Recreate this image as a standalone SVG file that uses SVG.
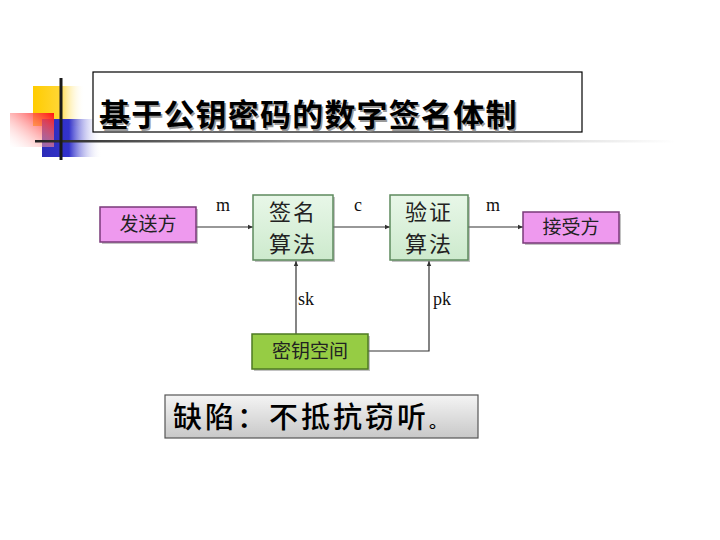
<svg xmlns="http://www.w3.org/2000/svg" width="720" height="540" viewBox="0 0 720 540">
<defs>
<linearGradient id="gY" x1="0" y1="0" x2="1" y2="0"><stop offset="0" stop-color="#FFCC00"/><stop offset="0.5" stop-color="#FFD633"/><stop offset="1" stop-color="#FFFFFF" stop-opacity="0"/></linearGradient>
<linearGradient id="gB" x1="0" y1="0" x2="1" y2="0"><stop offset="0" stop-color="#2B2BB8"/><stop offset="0.45" stop-color="#3333CC"/><stop offset="1" stop-color="#FFFFFF" stop-opacity="0"/></linearGradient>
<linearGradient id="gR" x1="1" y1="0" x2="0" y2="1"><stop offset="0" stop-color="#FF1010"/><stop offset="1" stop-color="#FFFFFF" stop-opacity="0.2"/></linearGradient>
<linearGradient id="gL" x1="0" y1="0" x2="1" y2="0"><stop offset="0" stop-color="#222222"/><stop offset="0.4" stop-color="#999999"/><stop offset="1" stop-color="#FFFFFF"/></linearGradient>
<linearGradient id="gD" x1="0" y1="0" x2="0" y2="1"><stop offset="0" stop-color="#F4F4F4"/><stop offset="1" stop-color="#C8C8C8"/></linearGradient>
<linearGradient id="gG" x1="0" y1="0" x2="0" y2="1"><stop offset="0" stop-color="#E8F7E8"/><stop offset="1" stop-color="#CDEACD"/></linearGradient>
<marker id="ah" markerWidth="6" markerHeight="6" refX="5" refY="3" orient="auto" markerUnits="userSpaceOnUse"><path d="M0,0.8 L5,3 L0,5.2 z" fill="#333"/></marker>
</defs>
<style>
.cjk{font-family:"Noto Sans CJK SC","Noto Sans",sans-serif;}
.lat{font-family:"Liberation Serif",serif;font-size:18px;fill:#111;}
.pink{fill:#EE99EE;stroke:#7A3A7A;stroke-width:1.5;}
.algo{fill:url(#gG);stroke:#5E8A5E;stroke-width:1.5;}
.shadow{fill:#777;opacity:0.45;}
.conn{stroke:#333;stroke-width:1.2;fill:none;}
</style>
<rect width="720" height="540" fill="#fff"/>
<g id="decor">
<rect x="33" y="86" width="52" height="40" fill="url(#gY)"/>
<rect x="42" y="119" width="60" height="38" fill="url(#gB)"/>
<rect x="10" y="113" width="44" height="34" fill="url(#gR)"/>
<rect x="35" y="140" width="640" height="2.5" fill="url(#gL)"/>
<rect x="59.5" y="78" width="3" height="82" fill="#1a1a1a"/>
</g>
<g id="title">
<rect x="93" y="72" width="489" height="60" fill="#fff" stroke="#000" stroke-width="1.2"/>
<text class="cjk" x="99" y="126" font-size="31" font-weight="bold" letter-spacing="1.2" fill="#999" transform="translate(1.5,1.5)">基于公钥密码的数字签名体制</text>
<text class="cjk" x="99" y="126" font-size="31" font-weight="bold" letter-spacing="1.2" fill="#000">基于公钥密码的数字签名体制</text>
</g>
<g id="connectors">
<line class="conn" x1="196" y1="227" x2="253" y2="227" marker-end="url(#ah)"/>
<line class="conn" x1="333" y1="227" x2="390" y2="227" marker-end="url(#ah)"/>
<line class="conn" x1="468" y1="227" x2="523" y2="227" stroke="#777" marker-end="url(#ah)"/>
<line class="conn" x1="296" y1="334" x2="296" y2="261" stroke="#666" marker-end="url(#ah)"/>
<polyline class="conn" points="368,351 429,351 429,261" marker-end="url(#ah)"/>
<text class="lat" x="216" y="211">m</text>
<text class="lat" x="354" y="211">c</text>
<text class="lat" x="486" y="211">m</text>
<text class="lat" x="298" y="305">sk</text>
<text class="lat" x="433" y="305">pk</text>
</g>
<g id="sender">
<rect class="shadow" x="102" y="209" width="96" height="35"/>
<rect class="pink" x="100" y="207" width="96" height="35"/>
<text class="cjk" x="148" y="231" font-size="19" text-anchor="middle" fill="#222">发送方</text>
</g>
<g id="sign">
<rect class="shadow" x="255" y="197" width="80" height="65"/>
<rect class="algo" x="253" y="195" width="80" height="65"/>
<text class="cjk" x="293" y="220" font-size="22" letter-spacing="2" text-anchor="middle" fill="#222">签名</text>
<text class="cjk" x="293" y="252" font-size="22" letter-spacing="2" text-anchor="middle" fill="#222">算法</text>
</g>
<g id="verify">
<rect class="shadow" x="392" y="197" width="78" height="65"/>
<rect class="algo" x="390" y="195" width="78" height="65"/>
<text class="cjk" x="429" y="220" font-size="22" letter-spacing="2" text-anchor="middle" fill="#222">验证</text>
<text class="cjk" x="429" y="252" font-size="22" letter-spacing="2" text-anchor="middle" fill="#222">算法</text>
</g>
<g id="receiver">
<rect class="shadow" x="525" y="214" width="96" height="31"/>
<rect class="pink" x="523" y="212" width="96" height="31"/>
<text class="cjk" x="571" y="234" font-size="19" text-anchor="middle" fill="#222">接受方</text>
</g>
<g id="keyspace">
<rect class="shadow" x="254" y="336" width="116" height="35"/>
<rect x="252" y="334" width="116" height="35" fill="#96CC44" stroke="#4E7A22" stroke-width="1.5"/>
<text class="cjk" x="310" y="358" font-size="19" text-anchor="middle" fill="#222">密钥空间</text>
</g>
<g id="note">
<rect x="165" y="395" width="313" height="43" fill="url(#gD)" stroke="#555" stroke-width="1.2"/>
<text class="cjk" x="173" y="428" font-size="29" font-weight="500" letter-spacing="3" fill="#000">缺陷：不抵抗窃听<tspan font-size="18">。</tspan></text>
</g>
</svg>
